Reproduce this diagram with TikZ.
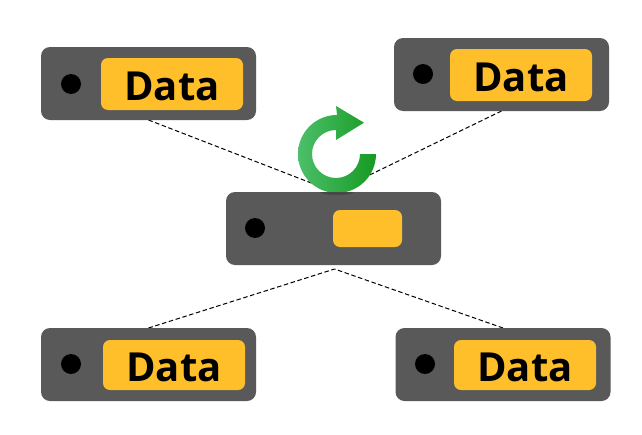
\documentclass[tikz,border=0pt]{standalone}
\usepackage{fontspec}
\setmainfont{Open Sans}
\usetikzlibrary{calc}
\definecolor{srvgray}{HTML}{595959}
\definecolor{slotorange}{HTML}{FFBF2B}
\definecolor{arrowlight}{HTML}{4CBF6A}
\definecolor{arrowdark}{HTML}{169A22}
\tikzset{
  server/.style={draw=none,fill=srvgray,rounded corners=9pt,minimum width=215pt,minimum height=73pt,inner sep=0pt,outer sep=0pt},
  slot/.style={draw=none,fill=slotorange,rounded corners=7pt,minimum width=142pt,minimum height=52pt,inner sep=0pt,outer sep=0pt,text=black,text height=32pt,text depth=0pt,font=\fontsize{40}{40}\selectfont\bfseries},
  smallslot/.style={slot,minimum width=69pt,minimum height=37pt},
  led/.style={circle,fill=black,draw=none,minimum size=20pt,inner sep=0pt,outer sep=0pt},
  link/.style={draw=black,line width=1pt,dash pattern=on 4.5pt off 2.6pt}
}
\begin{document}
\begin{tikzpicture}[x=1pt,y=-1pt]
\useasboundingbox (0,0) rectangle (642,434);
\fill[white] (0,0) rectangle (642,434);
\path
  node[server,fill=none] (tl) at (148.5,83.5) {}
  node[server,fill=none] (tr) at (501.5,74.5) {}
  node[server,fill=none] (c) at (333.5,228.5) {}
  node[server,fill=none] (bl) at (148.5,364.5) {}
  node[server,fill=none] (br) at (503,364.5) {};
\coordinate (ctop) at ($(c.north)+(1,0)$);
\coordinate (cbot) at ($(c.south)+(1,4)$);
% connectors
\draw[link] (tl.south) -- (ctop);
\draw[link] (tr.south) -- (ctop);
\draw[link] (bl.north) -- (cbot);
\draw[link] (br.north) -- (cbot);
% refresh arrow
\shade[left color=arrowlight,right color=arrowdark]
  (376,154) arc[start angle=0,end angle=270,radius=39]
  -- (336,106) -- (364,122.7) -- (336,140) -- (336,130)
  arc[start angle=270,end angle=0,radius=24] -- cycle;
% servers
\node[server] at (tl) {};
\node[server] at (tr) {};
\node[server] at (c) {};
\node[server] at (bl) {};
\node[server] at (br) {};
% contact shadow of the arrow
\begin{scope}
\clip (300,192) rectangle (375,200);
\fill[black,opacity=0.2] (337,192) ellipse[x radius=17,y radius=3];
\end{scope}
% slots and leds
\node[slot] (s1) at (172,84) {Data};
\node[slot] (s2) at (521,75) {Data};
\node[smallslot] (s3) at (367.5,228.5) {};
\node[slot,minimum height=50pt] (s4) at (174,365) {Data};
\node[slot,minimum height=50pt] (s5) at (525,365) {Data};
\node[led] (d1) at (71,84) {};
\node[led] (d2) at (423,74) {};
\node[led] (d3) at (255,228) {};
\node[led] (d4) at (71,364) {};
\node[led] (d5) at (425,364) {};
\end{tikzpicture}
\end{document}
